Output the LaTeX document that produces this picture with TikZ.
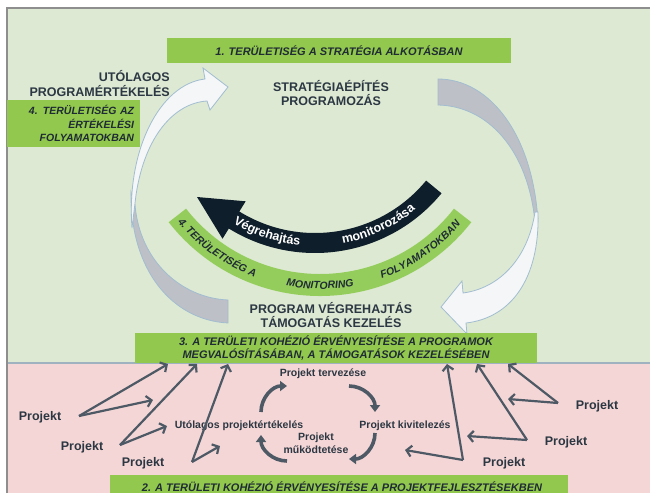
\documentclass[tikz,border=0pt]{standalone}
\usepackage{fontspec}
\setmainfont{Liberation Sans}
\usetikzlibrary{arrows.meta,calc,decorations.text}

\definecolor{cBgGreen}{HTML}{DDE9D3}
\definecolor{cBgPink}{HTML}{F5D6D6}
\definecolor{cBar}{HTML}{92C84D}
\definecolor{cBand}{HTML}{95CD5C}
\definecolor{cNavy}{HTML}{0E1E2B}
\definecolor{cArcGray}{HTML}{BEC0C7}
\definecolor{cArcEdge}{HTML}{A2BDD0}
\definecolor{cPale}{HTML}{F4F6F8}
\definecolor{cText}{HTML}{2B3742}
\definecolor{cBarText}{HTML}{1F2B35}
\definecolor{cLink}{HTML}{4D5965}
\definecolor{cFrame}{HTML}{8E8E8E}
\definecolor{cSep}{HTML}{9FB2C0}

\tikzset{
  headline/.style={font=\bfseries\fontsize{12.5}{14.5}\selectfont, text=cText, align=center, inner sep=0pt},
  greenbar/.style={fill=cBar, draw=none, font=\bfseries\itshape\fontsize{11}{12.5}\selectfont,
                   text=cBarText, align=center, inner sep=0pt},
  projlabel/.style={font=\bfseries\fontsize{12.5}{14}\selectfont, text=cText, inner sep=0pt},
  cyclabel/.style={font=\bfseries\fontsize{10.5}{13}\selectfont, text=cText, align=center, inner sep=0pt},
  link/.style={draw=cLink, line width=2.2pt, -{Straight Barb[length=5pt,width=11pt]}},
  cycarrow/.style={draw=cLink, line width=3.6pt, -{Triangle[length=7pt,width=10pt]}},
  tailshape/.style={fill=cArcGray, draw=cArcEdge, line width=0.8pt},
  paleshape/.style={fill=cPale, draw=cArcEdge, line width=0.8pt},
  bandtext/.style={decorate, decoration={text along path, text align=center,
      text color=cBarText, text={|\bfseries\itshape\fontsize{10.5}{10.5}\selectfont|#1}}},
  navytext/.style={decorate, decoration={text along path, text align=center,
      text color=white, text={|\bfseries\fontsize{12.5}{12.5}\selectfont|#1}}},
}

\begin{document}
\begin{tikzpicture}[x=1pt,y=-1pt]
\useasboundingbox (0,0) rectangle (650,493);

% background panels and frame
\fill[white] (0,0) rectangle (650,493);
\fill[cBgGreen] (7,8) rectangle (650,363);
\fill[cBgPink] (7,363) rectangle (650,493);
\draw[cSep, line width=1.2pt] (7,363) -- (650,363);
\draw[cFrame, line width=1.6pt] (7,493) -- (7,8) -- (650,8);

% ---------- big cycle ----------
% left grey tail
\filldraw[tailshape] (131,192) .. controls (130,270) and (172,320) .. (228,323)
  -- (228,300) .. controls (182,298) and (140,262) .. (135,205) -- cycle;
% left pale arrow up to the top
\filldraw[paleshape] (132,228) .. controls (126,150) and (160,84) .. (205,79)
  -- (203,68) -- (228,87) -- (210,110) -- (207,101)
  .. controls (175,103) and (145,135) .. (136,195) -- cycle;
% top right grey tail
\filldraw[tailshape] (438,79) .. controls (490,79) and (533,135) .. (538,222)
  -- (535,222) .. controls (528,150) and (488,106) .. (438,105) -- cycle;
% right pale arrow down to the bottom
\filldraw[paleshape] (538,212) .. controls (540,280) and (510,318) .. (466,323)
  -- (467,334) -- (441,307) -- (462,281) -- (463,293)
  .. controls (500,288) and (528,258) .. (535,212) -- cycle;

% monitoring band
\coordinate (bandc) at (320,104);
\fill[cBand] ($(bandc)+(142:192)$) arc[start angle=142, end angle=38, radius=192]
  -- ($(bandc)+(38:170)$) arc[start angle=38, end angle=142, radius=170] -- cycle;
\path[bandtext={4. TERÜLETISÉG A}] ($(bandc)+(150:185)$) arc[start angle=150, end angle=101, radius=185];
\path[bandtext={MONITORING}] ($(bandc)+(115:185)$) arc[start angle=115, end angle=65, radius=185];
\path[bandtext={FOLYAMATOKBAN}] ($(bandc)+(80:185)$) arc[start angle=80, end angle=31, radius=185];

% dark curved arrow
\coordinate (navc) at (315,89);
\fill[cNavy] ($(navc)+(39.5:164)$) arc[start angle=39.5, end angle=121.7, radius=164]
  -- ($(navc)+(121.7:176)$) -- (197,197) -- ($(navc)+(121.7:132)$)
  -- ($(navc)+(121.7:144)$) arc[start angle=121.7, end angle=39.5, radius=144] -- cycle;
\path[navytext={Végrehajtás}] ($(navc)+(133:157)$) arc[start angle=133, end angle=84, radius=157];
\path[navytext={monitorozása}] ($(navc)+(90:157)$) arc[start angle=90, end angle=40, radius=157];

% ---------- headings ----------
\node[headline, align=right, anchor=east] (utol) at (170,83.5) {UTÓLAGOS\\PROGRAMÉRTÉKELÉS};
\node[headline] (strat) at (331,93) {STRATÉGIAÉPÍTÉS\\PROGRAMOZÁS};
\node[headline] (progv) at (331,315) {PROGRAM VÉGREHAJTÁS\\TÁMOGATÁS KEZELÉS};

% ---------- green bars ----------
\node[greenbar, minimum width=344pt, minimum height=25pt] (bar1) at (339,50.5)
  {1. TERÜLETISÉG A STRATÉGIA ALKOTÁSBAN};
\node[greenbar, minimum width=133pt, minimum height=47pt, text width=121pt, align=right,
      font=\bfseries\itshape\fontsize{10.5}{13.5}\selectfont] (bar4) at (73.5,123.5)
  {4. TERÜLETISÉG AZ\\ÉRTÉKELÉSI\\FOLYAMATOKBAN};
\node[greenbar, minimum width=402pt, minimum height=30pt] (bar3) at (336,348)
  {3. A TERÜLETI KOHÉZIÓ ÉRVÉNYESÍTÉSE A PROGRAMOK\\MEGVALÓSÍTÁSÁBAN, A TÁMOGATÁSOK KEZELÉSÉBEN};
\fill[cBar] (110,475) rectangle (568,493);
\node[greenbar, fill=none] (bar2) at (342,487)
  {2. A TERÜLETI KOHÉZIÓ ÉRVÉNYESÍTÉSE A PROJEKTFEJLESZTÉSEKBEN};

% ---------- project cycle ----------
\node[cyclabel] (tervez) at (323,374) {Projekt tervezése};
\node[cyclabel] (utproj) at (239,426) {Utólagos projektértékelés};
\node[cyclabel] (kivit) at (405,426) {Projekt kivitelezés};
\node[cyclabel] (mukod) at (316,443) {Projekt\\működtetése};

\coordinate (cyTL) at (261,412);
\coordinate (cyTR) at (349,386);
\coordinate (cyBR) at (375,433);
\coordinate (cyBL) at (287,461);
\draw[cycarrow] (cyTL) arc[start angle=180, end angle=270, radius=26];
\draw[cycarrow] (cyTR) arc[start angle=270, end angle=360, radius=26];
\draw[cycarrow] (cyBR) arc[start angle=0, end angle=90, radius=26];
\draw[cycarrow] (cyBL) arc[start angle=90, end angle=180, radius=26];

% ---------- projects feeding the programme ----------
\node[projlabel] (pr1) at (40,417) {Projekt};
\node[projlabel] (pr2) at (82,447) {Projekt};
\node[projlabel] (pr3) at (143,463) {Projekt};
\node[projlabel] (pr4) at (597,406) {Projekt};
\node[projlabel] (pr5) at (566,442) {Projekt};
\node[projlabel] (pr6) at (504,463) {Projekt};

\coordinate (a1) at (79,416);  \coordinate (a1u) at (168,364); \coordinate (a1s) at (153,400);
\coordinate (a2) at (120,445); \coordinate (a2u) at (197,364); \coordinate (a2s) at (167,426);
\coordinate (a3) at (192,462); \coordinate (a3u) at (228,364); \coordinate (a3s) at (220,446);
\coordinate (a4) at (558,403); \coordinate (a4u) at (508,364); \coordinate (a4s) at (508,399);
\coordinate (a5) at (527,440); \coordinate (a5u) at (477,364); \coordinate (a5s) at (467,436);
\coordinate (a6) at (463,460); \coordinate (a6u) at (447,364); \coordinate (a6s) at (405,450);

\foreach \k in {1,...,6}{
  \draw[link] (a\k) -- (a\k u);
  \draw[link] (a\k) -- (a\k s);
}
\end{tikzpicture}
\end{document}
